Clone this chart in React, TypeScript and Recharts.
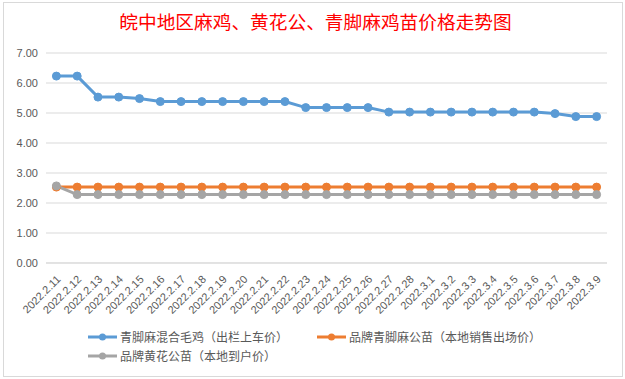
import React from 'react';
import { LineChart, Line, XAxis, YAxis, CartesianGrid, Legend } from 'recharts';

const dates = [
  '2022.2.11', '2022.2.12', '2022.2.13', '2022.2.14', '2022.2.15', '2022.2.16', '2022.2.17',
  '2022.2.18', '2022.2.19', '2022.2.20', '2022.2.21', '2022.2.22', '2022.2.23', '2022.2.24',
  '2022.2.25', '2022.2.26', '2022.2.27', '2022.2.28', '2022.3.1', '2022.3.2', '2022.3.3',
  '2022.3.4', '2022.3.5', '2022.3.6', '2022.3.7', '2022.3.8', '2022.3.9',
];

const mixedChicken = [
  6.23, 6.23, 5.53, 5.53, 5.48, 5.38, 5.38, 5.38, 5.38, 5.38, 5.38, 5.38, 5.18, 5.18,
  5.18, 5.18, 5.03, 5.03, 5.03, 5.03, 5.03, 5.03, 5.03, 5.03, 4.98, 4.88, 4.88,
];

const brandQingjiao = [
  2.53, 2.53, 2.53, 2.53, 2.53, 2.53, 2.53, 2.53, 2.53, 2.53, 2.53, 2.53, 2.53, 2.53,
  2.53, 2.53, 2.53, 2.53, 2.53, 2.53, 2.53, 2.53, 2.53, 2.53, 2.53, 2.53, 2.53,
];

const brandHuanghua = [
  2.57, 2.28, 2.28, 2.28, 2.28, 2.28, 2.28, 2.28, 2.28, 2.28, 2.28, 2.28, 2.28, 2.28,
  2.28, 2.28, 2.28, 2.28, 2.28, 2.28, 2.28, 2.28, 2.28, 2.28, 2.28, 2.28, 2.28,
];

const yTicks = [0, 1, 2, 3, 4, 5, 6, 7];

const seriesNames = [
  '青脚麻混合毛鸡（出栏上车价）',
  '品牌青脚麻公苗（本地销售出场价）',
  '品牌黄花公苗（本地到户价）',
];

const title = '皖中地区麻鸡、黄花公、青脚麻鸡苗价格走势图';

const data = dates.map((d, i) => ({
  date: d,
  a: mixedChicken[i],
  b: brandQingjiao[i],
  c: brandHuanghua[i],
}));

const XTick = (props: any) => {
  const { x, y, payload } = props;
  const ax = x + 5;
  const ay = y + 9;
  return (
    <text
      x={ax}
      y={ay}
      transform={`rotate(-45 ${ax} ${ay})`}
      textAnchor="end"
      fontSize={11}
      fill="#595959"
      fontFamily="Liberation Sans, Arial, sans-serif"
    >
      {payload.value}
    </text>
  );
};

const LegendContent = (props: any) => {
  const { payload } = props;
  const items = [...(payload || [])].sort(
    (p: any, q: any) => seriesNames.indexOf(p.value) - seriesNames.indexOf(q.value)
  );
  return (
    <div
      style={{
        display: 'grid',
        gridTemplateColumns: '229px 270px',
        paddingLeft: 88,
        rowGap: 0,
      }}
    >
      {items.map((p: any) => (
        <div key={p.value} style={{ display: 'flex', alignItems: 'center', height: 19 }}>
          <svg width={29} height={10} style={{ marginRight: 3 }}>
            <line x1={0} y1={5} x2={29} y2={5} stroke={p.color} strokeWidth={3} />
            <circle cx={14.5} cy={5} r={3.5} fill={p.color} />
          </svg>
          <span
            style={{
              fontSize: 12,
              color: '#595959',
              fontFamily: '"Noto Sans CJK SC", sans-serif',
              whiteSpace: 'nowrap',
              lineHeight: '19px',
            }}
          >
            {p.value}
          </span>
        </div>
      ))}
    </div>
  );
};

export default function App() {
  return (
    <div style={{ position: 'absolute', left: 0, top: 0, width: 625, height: 379, background: '#fff' }}>
      <div
        style={{
          position: 'absolute',
          left: 3,
          top: 2,
          width: 618,
          height: 373,
          border: '1px solid #d9d9d9',
        }}
      />
      <div
        style={{
          position: 'absolute',
          left: 0,
          top: 8,
          width: 631,
          textAlign: 'center',
          fontSize: 18.7,
          lineHeight: '25px',
          color: '#ff0000',
          fontFamily: '"Noto Sans CJK SC", sans-serif',
        }}
      >
        {title}
      </div>
      <LineChart
        width={625}
        height={379}
        data={data}
        margin={{ top: 53, right: 18, left: 6, bottom: 12 }}
        style={{ position: 'absolute', left: 0, top: 0 }}
      >
        <CartesianGrid vertical={false} stroke="#d9d9d9" strokeWidth={1} />
        <XAxis
          dataKey="date"
          interval={0}
          tick={<XTick />}
          tickLine={false}
          axisLine={{ stroke: '#d9d9d9' }}
          height={64}
          padding={{ left: 10.4, right: 10.4 }}
        />
        <YAxis
          domain={[0, 7]}
          ticks={yTicks}
          tickFormatter={(v: number) => v.toFixed(2)}
          axisLine={false}
          tickLine={false}
          width={40}
          tick={{ fontSize: 11, fill: '#595959', fontFamily: 'Liberation Sans, Arial, sans-serif' }}
        />
        <Legend
          content={<LegendContent />}
          wrapperStyle={{ position: 'absolute', top: 327, left: 0, bottom: 'auto', width: 625, height: 40 }}
        />
        <Line
          type="linear"
          dataKey="a"
          name={seriesNames[0]}
          stroke="#5b9bd5"
          strokeWidth={3}
          dot={{ r: 4, fill: '#5b9bd5', stroke: '#5b9bd5', strokeWidth: 1 }}
          isAnimationActive={false}
        />
        <Line
          type="linear"
          dataKey="b"
          name={seriesNames[1]}
          stroke="#ed7d31"
          strokeWidth={3}
          dot={{ r: 4, fill: '#ed7d31', stroke: '#ed7d31', strokeWidth: 1 }}
          isAnimationActive={false}
        />
        <Line
          type="linear"
          dataKey="c"
          name={seriesNames[2]}
          stroke="#a5a5a5"
          strokeWidth={3}
          dot={{ r: 4, fill: '#a5a5a5', stroke: '#a5a5a5', strokeWidth: 1 }}
          isAnimationActive={false}
        />
      </LineChart>
    </div>
  );
}
